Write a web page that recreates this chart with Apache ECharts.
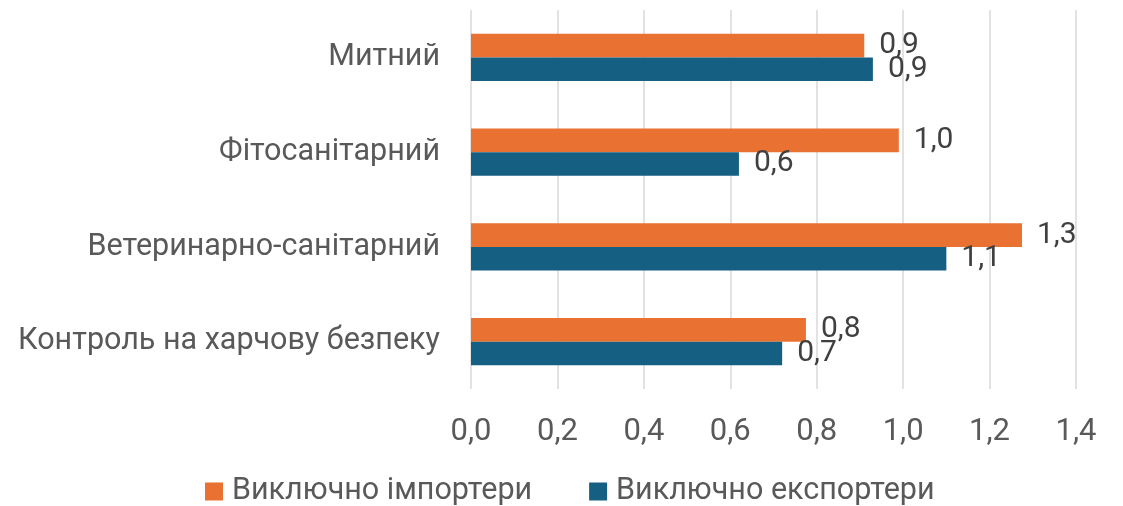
<!DOCTYPE html>
<html>
<head>
<meta charset="utf-8">
<script src="https://cdn.jsdelivr.net/npm/echarts@6/dist/echarts.min.js"></script>
<style>
  html, body { margin: 0; padding: 0; background: #fff; }
  #chart { width: 1123px; height: 506px; }
</style>
</head>
<body>
<div id="chart"></div>
<script>
const categories = ['Митний', 'Фітосанітарний', 'Ветеринарно-санітарний', 'Контроль на харчову безпеку']
const importers = [0.91, 0.99, 1.275, 0.775]
const exporters = [0.93, 0.62, 1.10, 0.72]
const seriesNames = ['Виключно імпортери', 'Виключно експортери']

const font = 'Roboto, "Noto Sans", sans-serif'
const fmt = (v) => v.toFixed(1).replace('.', ',')

const chart = echarts.init(document.getElementById('chart'))

const labelStyle = {
  show: true,
  position: 'right',
  distance: 15,
  fontSize: 30,
  fontFamily: font,
  color: '#404040',
  formatter: (p) => fmt(p.value)
}

chart.setOption({
  animation: false,
  grid: {
    left: 471,
    right: 47,
    top: 10,
    bottom: 117
  },
  legend: {
    top: 476,
    left: 205,
    padding: 0,
    itemWidth: 18,
    itemHeight: 18,
    itemGap: 57,
    icon: 'rect',
    textStyle: { fontSize: 30.5, fontFamily: font, color: '#595959', padding: [0, 0, 0, 4] },
    data: seriesNames
  },
  xAxis: {
    type: 'value',
    min: 0,
    max: 1.4,
    interval: 0.2,
    axisLine: { show: false },
    axisTick: { show: false },
    splitLine: { lineStyle: { color: '#d9d9d9', width: 1.5 } },
    axisLabel: {
      margin: 28,
      fontSize: 31,
      fontFamily: font,
      color: '#595959',
      formatter: (v) => fmt(v)
    }
  },
  yAxis: {
    type: 'category',
    inverse: true,
    data: categories,
    axisLine: { show: false },
    axisTick: { show: false },
    axisLabel: {
      margin: 31,
      fontSize: 30.5,
      fontFamily: font,
      color: '#595959'
    }
  },
  series: [
    {
      name: seriesNames[0],
      type: 'bar',
      data: importers,
      barGap: '0%',
      barCategoryGap: '50%',
      itemStyle: { color: '#E97132' },
      label: labelStyle
    },
    {
      name: seriesNames[1],
      type: 'bar',
      data: exporters,
      itemStyle: { color: '#156082' },
      label: labelStyle
    }
  ]
})
</script>
</body>
</html>
